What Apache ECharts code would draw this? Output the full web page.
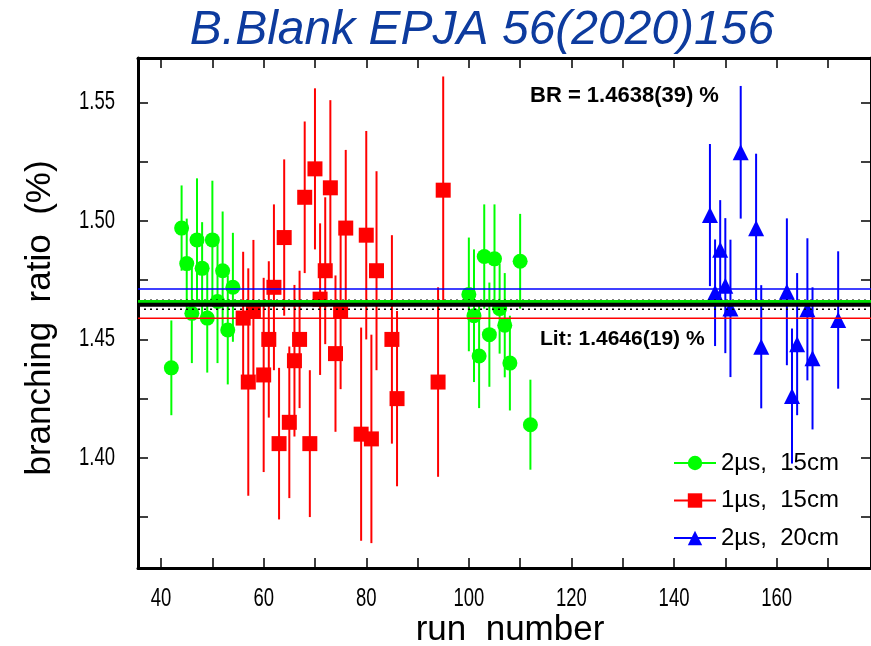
<!DOCTYPE html>
<html>
<head>
<meta charset="utf-8">
<script src="https://cdn.jsdelivr.net/npm/echarts@6/dist/echarts.min.js"></script>
<style>html,body{margin:0;padding:0;background:#fff;}#c{width:871px;height:646px;}</style>
</head>
<body>
<div id="c"></div>
<script>
// ---- data ----
const greenRuns = [42,44,45,46,47,48,49,50,51,52,53,54,100,101,102,103,104,105,106,107,108,110,112];
const greenVals = [1.438,1.497,1.482,1.461,1.492,1.480,1.459,1.492,1.466,1.479,1.454,1.472,1.469,1.460,1.443,1.485,1.452,1.484,1.463,1.456,1.440,1.483,1.414];
const greenErrs = [0.020,0.018,0.019,0.021,0.026,0.0195,0.023,0.025,0.026,0.025,0.023,0.023,0.024,0.028,0.022,0.022,0.022,0.023,0.019,0.022,0.020,0.020,0.019];

const redRuns = [56,57,58,60,61,62,63,64,65,66,67,68,69,70,71,72,73,74,75,76,79,80,81,82,85,86,94,95];
const redVals = [1.459,1.432,1.462,1.435,1.450,1.472,1.406,1.493,1.415,1.441,1.450,1.510,1.406,1.522,1.467,1.479,1.514,1.444,1.462,1.497,1.410,1.494,1.408,1.479,1.450,1.425,1.432,1.513];
const redErrs = [0.028,0.048,0.030,0.041,0.033,0.035,0.032,0.033,0.032,0.032,0.029,0.032,0.031,0.034,0.032,0.031,0.037,0.033,0.033,0.033,0.045,0.044,0.044,0.042,0.044,0.037,0.040,0.048];

const blueRuns = [147,148,149,150,151,153,156,157,162,163,164,166,167,172];
const blueVals = [1.5025,1.4697,1.4878,1.4727,1.4631,1.529,1.4969,1.4469,1.4701,1.4261,1.448,1.4627,1.442,1.4582];
const blueErrs = [0.030,0.0225,0.021,0.0285,0.029,0.028,0.0315,0.026,0.031,0.0285,0.030,0.030,0.030,0.029];

const seriesNames = ['2\u00b5s,  15cm', '1\u00b5s,  15cm', '2\u00b5s,  20cm'];

// reference lines: blue mean, red mean, lit +/- 1 sigma, green mean, literature value
const refLineValues = [1.4713, 1.4589, 1.4665, 1.4627, 1.4660, 1.4646];

const xTickValues = [40,50,60,70,80,90,100,110,120,130,140,150,160,170];
const xLabelValues = [40,60,80,100,120,140,160];
const yTickValues = [1.375,1.40,1.425,1.45,1.475,1.50,1.525,1.55];
const yLabelValues = [1.40,1.45,1.50,1.55];

const titleText = 'B.Blank EPJA 56(2020)156';
const brText = 'BR = 1.4638(39) %';
const litText = 'Lit: 1.4646(19) %';
const xTitle = 'run  number';
const yTitle = 'branching  ratio  (%)';

// ---- build ----
const SANS = '"Liberation Sans", Arial, sans-serif';
const colors = ['#00ff00', '#ff0000', '#0000ff'];
const symbols = ['circle', 'rect', 'triangle'];
const sizes = [15, 15, 16];
const refStyles = [
  { stroke: '#0000ff', lineWidth: 1.5 },
  { stroke: '#ff0000', lineWidth: 1.5 },
  { stroke: '#000000', lineWidth: 1.5, lineDash: [2, 4] },
  { stroke: '#000000', lineWidth: 1.5, lineDash: [2, 4] },
  { stroke: '#00e000', lineWidth: 3 },
  { stroke: '#000000', lineWidth: 4 }
];

function zip(r, v, e) { return r.map((x, i) => [x, v[i], e[i]]); }
const groups = [zip(greenRuns, greenVals, greenErrs), zip(redRuns, redVals, redErrs), zip(blueRuns, blueVals, blueErrs)];

const series = [];
groups.forEach((d, gi) => {
  series.push({
    type: 'custom', name: 'err' + gi, data: d, z: 2, clip: true,
    renderItem: function (params, api) {
      const x = api.value(0), y = api.value(1), e = api.value(2);
      const p1 = api.coord([x, y + e]);
      const p2 = api.coord([x, y - e]);
      return { type: 'line', shape: { x1: p1[0], y1: p1[1], x2: p2[0], y2: p2[1] },
               style: { stroke: colors[gi], lineWidth: 2 } };
    },
    encode: { x: 0, y: 1 }
  });
  series.push({
    type: 'scatter', name: 'pts' + gi, data: d.map(p => [p[0], p[1]]), z: 3,
    symbol: symbols[gi], symbolSize: sizes[gi],
    itemStyle: { color: colors[gi], opacity: 1 }
  });
});
groups.forEach((d, gi) => {
  series.push({
    type: 'line', name: seriesNames[gi], data: [], symbol: symbols[gi], symbolSize: sizes[gi],
    itemStyle: { color: colors[gi] }, lineStyle: { color: colors[gi], width: 1.5 }
  });
});
series.push({
  type: 'custom', name: 'refs', z: 5, clip: true,
  data: refLineValues.map((v, i) => [100, v, i]),
  encode: { x: 0, y: 1 },
  renderItem: function (params, api) {
    const cs = params.coordSys;
    const y = api.coord([api.value(0), api.value(1)])[1];
    const st = refStyles[api.value(2)];
    return { type: 'line', shape: { x1: cs.x, y1: y, x2: cs.x + cs.width, y2: y },
             style: Object.assign({ fill: null }, st) };
  }
});

const axisLine = { show: true, lineStyle: { color: '#000', width: 3 } };
const tickStyle = { color: '#000', width: 1.5 };

const option = {
  animation: false,
  backgroundColor: '#fff',
  grid: { left: 138, top: 58, right: 0, bottom: 78 },
  xAxis: [
    { type: 'value', min: 35.5, max: 178.4, position: 'bottom', axisLine: axisLine,
      axisTick: { inside: true, length: 10, lineStyle: tickStyle, customValues: xTickValues },
      axisLabel: { show: false }, splitLine: { show: false } },
    { type: 'value', min: 35.5, max: 178.4, position: 'top', axisLine: axisLine,
      axisTick: { inside: true, length: 10, lineStyle: tickStyle, customValues: xTickValues },
      axisLabel: { show: false }, splitLine: { show: false } }
  ],
  yAxis: [
    { type: 'value', min: 1.3535, max: 1.5688, position: 'left', axisLine: axisLine,
      axisTick: { inside: true, length: 10, lineStyle: tickStyle, customValues: yTickValues },
      axisLabel: { show: false }, splitLine: { show: false } },
    { type: 'value', min: 1.3535, max: 1.5688, position: 'right', axisLine: axisLine,
      axisTick: { inside: true, length: 10, lineStyle: tickStyle, customValues: yTickValues },
      axisLabel: { show: false }, splitLine: { show: false } }
  ],
  legend: {
    data: seriesNames, orient: 'vertical', left: 673, top: 450, padding: 0,
    itemWidth: 42, itemHeight: 18, itemGap: 11.5,
    textStyle: { fontSize: 24, lineHeight: 26, fontFamily: SANS, color: '#000' },
    selectedMode: false
  },
  series: series
};
const chart = echarts.init(document.getElementById('c'), null, { renderer: 'canvas' });
chart.setOption(option);

// texts: titles, annotations, and tick labels placed through the axes' scales
const g = [
  { type: 'text', x: 482, y: 31, style: { text: titleText, font: 'italic 48px ' + SANS, fill: '#0d3b9e', textAlign: 'center', textVerticalAlign: 'middle' } },
  { type: 'text', x: 530, y: 96, style: { text: brText, font: 'bold 22px ' + SANS, fill: '#000', textAlign: 'left', textVerticalAlign: 'middle' } },
  { type: 'text', x: 540, y: 339, style: { text: litText, font: 'bold 21px ' + SANS, fill: '#000', textAlign: 'left', textVerticalAlign: 'middle' } },
  { type: 'text', x: 510, y: 630, style: { text: xTitle, font: '35px ' + SANS, fill: '#000', textAlign: 'center', textVerticalAlign: 'middle' } },
  { type: 'text', x: 40, y: 318, rotation: Math.PI / 2, style: { text: yTitle, font: '35px ' + SANS, fill: '#000', textAlign: 'center', textVerticalAlign: 'middle' } }
];
const gridBottomY = chart.convertToPixel({ yAxisIndex: 0 }, 1.3535);
const gridLeftX = chart.convertToPixel({ xAxisIndex: 0 }, 35.5);
xLabelValues.forEach(v => {
  g.push({ type: 'text', x: chart.convertToPixel({ xAxisIndex: 0 }, v), y: gridBottomY + 31, scaleX: 0.74,
           style: { text: String(v), font: '25px ' + SANS, fill: '#000', textAlign: 'center', textVerticalAlign: 'middle' } });
});
yLabelValues.forEach(v => {
  g.push({ type: 'text', x: gridLeftX - 23, y: chart.convertToPixel({ yAxisIndex: 0 }, v), scaleX: 0.74,
           style: { text: v.toFixed(2), font: '25px ' + SANS, fill: '#000', textAlign: 'right', textVerticalAlign: 'middle' } });
});
chart.setOption({ graphic: g });
</script>
</body>
</html>
